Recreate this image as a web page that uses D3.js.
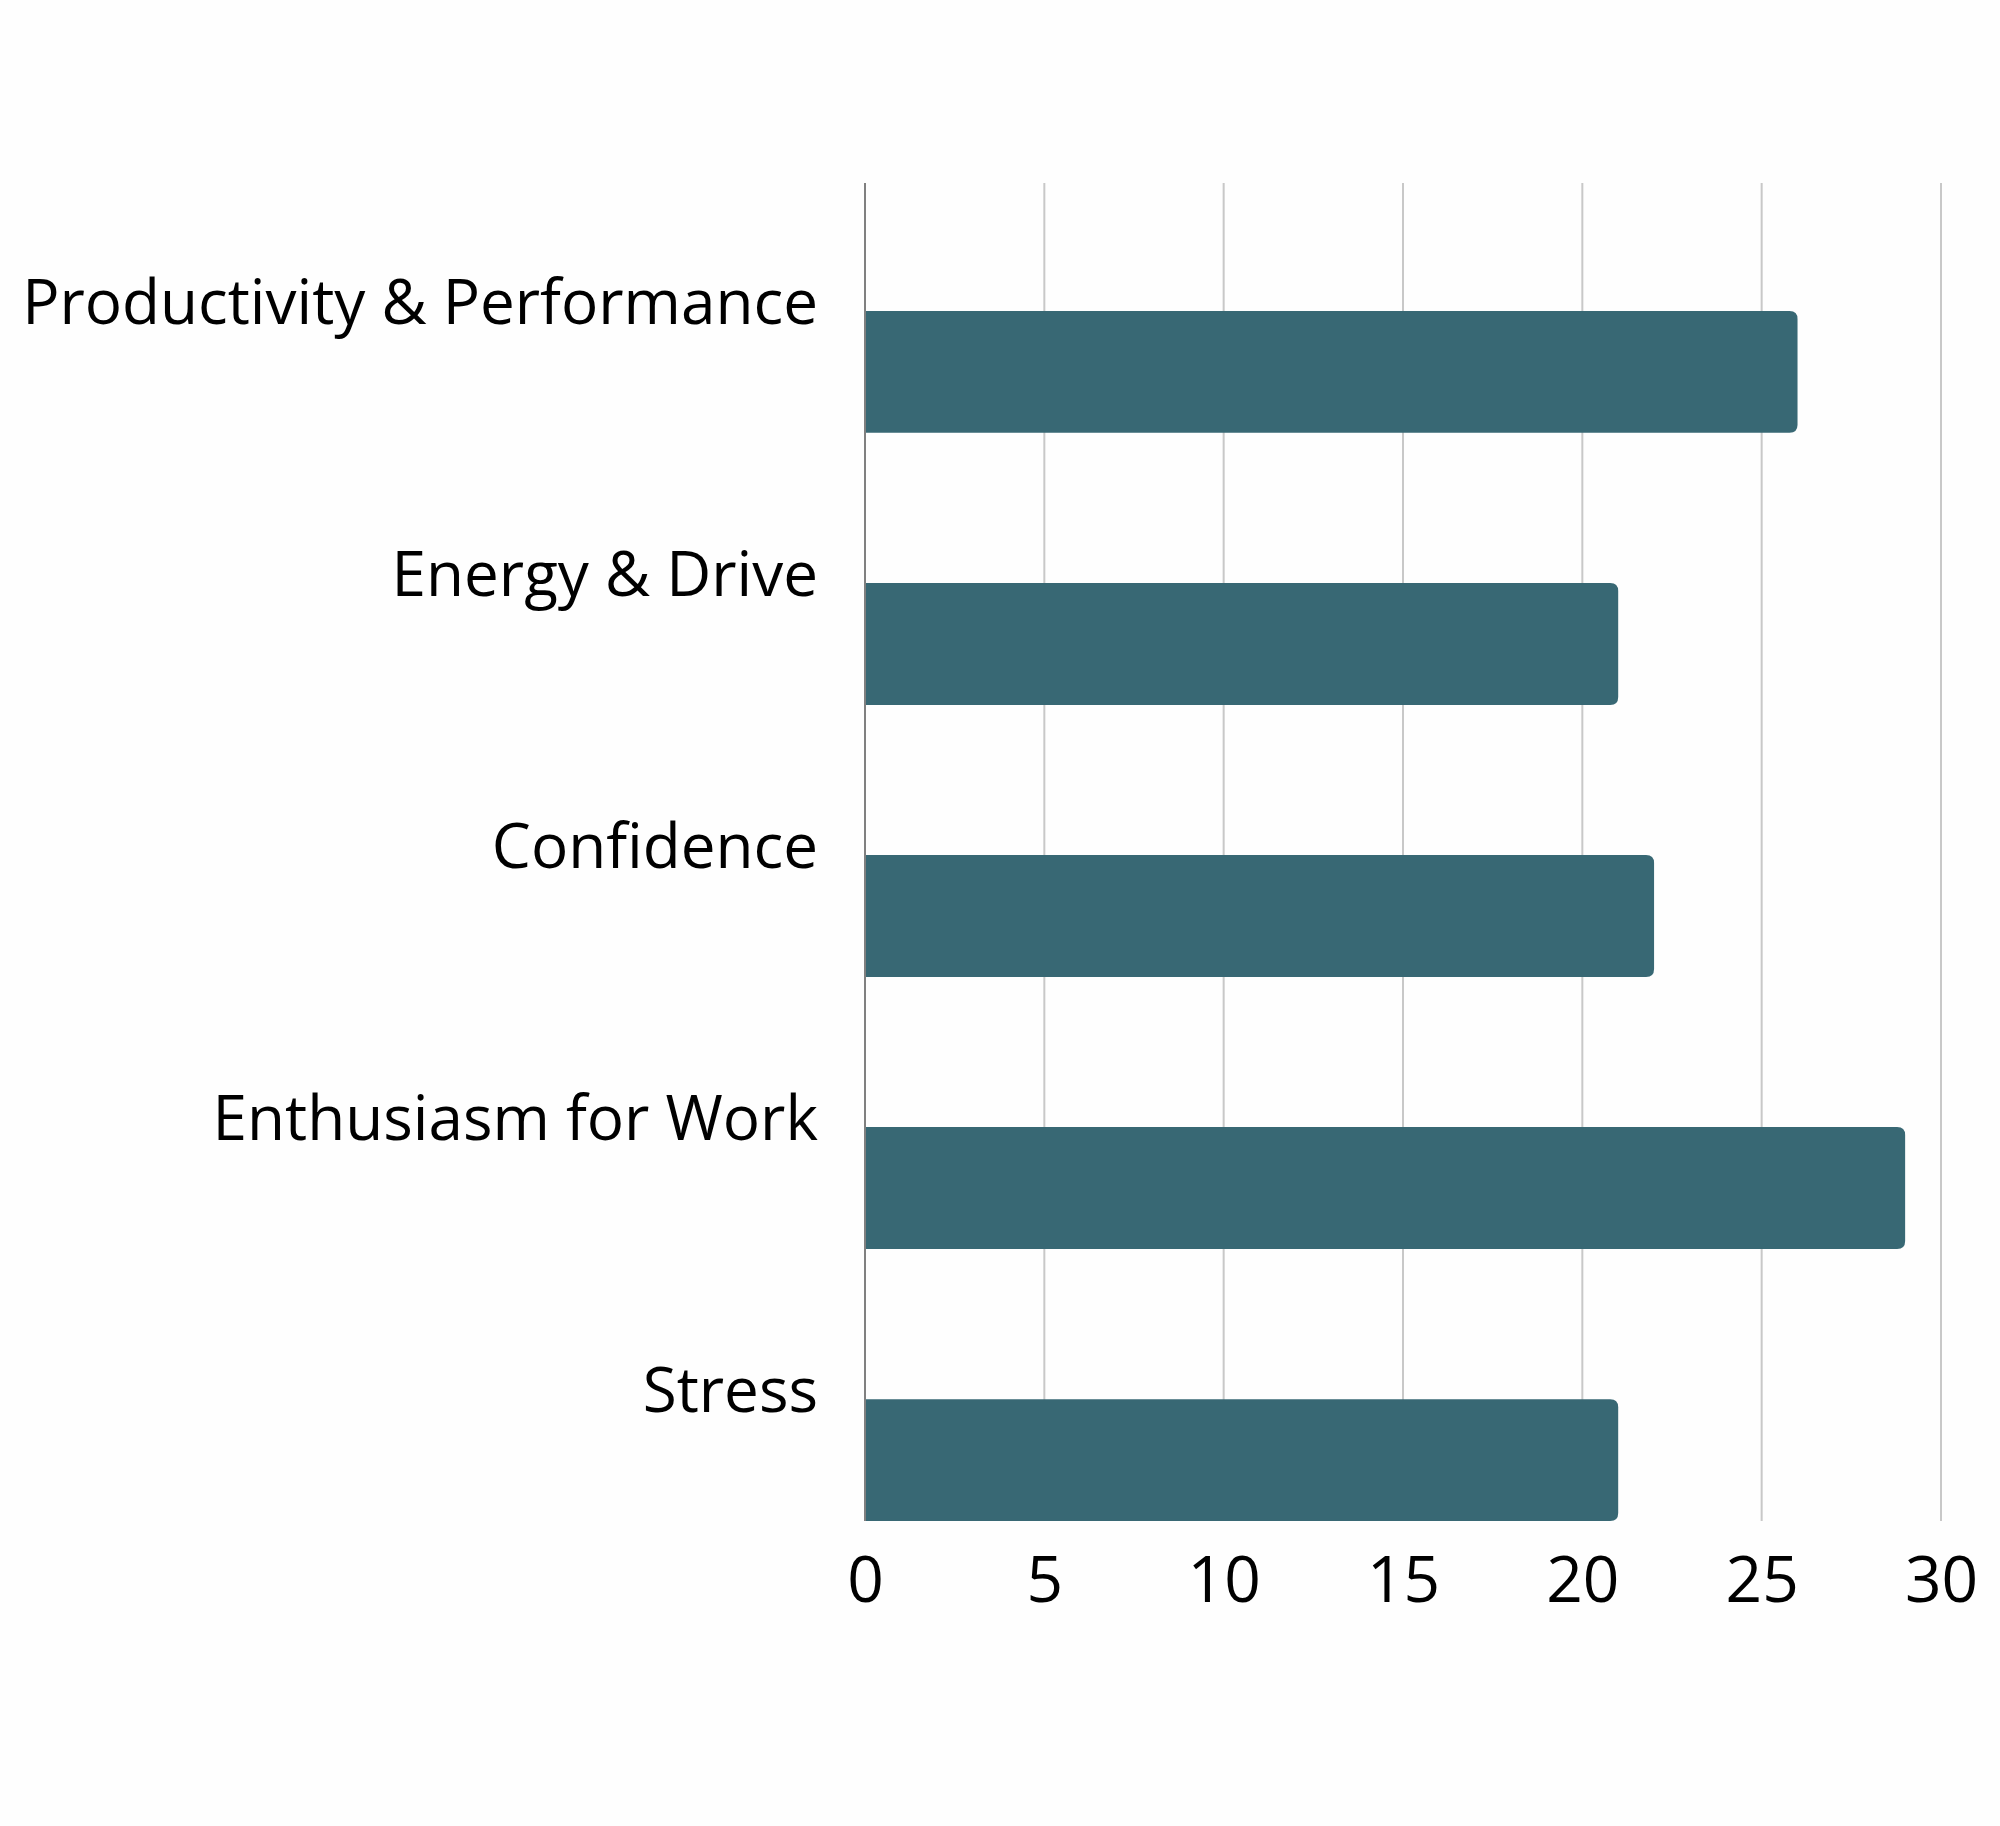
<!DOCTYPE html>
<html><head><meta charset="utf-8">
<script src="https://cdn.jsdelivr.net/npm/d3@7"></script>
<style>html,body{margin:0;padding:0;background:#fefefe;}</style>
</head><body>
<svg id="c" width="2000" height="1826"></svg>
<script>
const categories = ["Productivity & Performance","Energy & Drive","Confidence","Enthusiasm for Work","Stress"];
const values = [26, 21, 22, 29, 21];
const tickValues = [0, 5, 10, 15, 20, 25, 30];

const svg = d3.select("#c");
svg.append("rect").attr("width",2000).attr("height",1826).attr("fill","#fefefe");
const x0 = 865, x1 = 1941, gridTop = 183, gridBottom = 1521;
const x = d3.scaleLinear().domain([0,30]).range([x0,x1]);
const y = d3.scaleBand().domain(categories).range([311, 1521]).paddingInner(0.552).paddingOuter(0);

// grid lines
svg.append("g").selectAll("line").data(tickValues.filter(d=>d>0)).join("line")
  .attr("x1",d=>x(d)).attr("x2",d=>x(d)).attr("y1",gridTop).attr("y2",gridBottom)
  .attr("stroke","#c8c8c8").attr("stroke-width",2);

// bars with rounded right corners
const r = 8;
svg.append("g").selectAll("path").data(categories).join("path")
  .attr("d",(c,i)=>{
    const xs = x(0), xe = x(values[i]), yt = y(c), yb = y(c)+y.bandwidth();
    return `M${xs},${yt}H${xe-r}Q${xe},${yt} ${xe},${yt+r}V${yb-r}Q${xe},${yb} ${xe-r},${yb}H${xs}Z`;
  })
  .attr("fill","#386874");

// axis line
svg.append("line").attr("x1",x0).attr("x2",x0).attr("y1",gridTop).attr("y2",gridBottom)
  .attr("stroke","#808080").attr("stroke-width",2);

// category labels
svg.append("g").selectAll("text").data(categories).join("text")
  .attr("x",818).attr("y",c=>y(c)+13)
  .attr("text-anchor","end")
  .attr("font-family","'Open Sans', sans-serif").attr("font-size",62).attr("fill","#000")
  .text(c=>c);

// x axis tick labels
const xAxis = d3.axisBottom(x).tickValues(tickValues).tickSize(0).tickPadding(0);
const gx = svg.append("g").attr("transform",`translate(0,${gridBottom})`).call(xAxis);
gx.select(".domain").remove();
gx.selectAll("text").attr("font-family","'Open Sans', sans-serif").attr("font-size",64)
  .attr("fill","#000").attr("dy",null).attr("y",81);
</script>
</body></html>
